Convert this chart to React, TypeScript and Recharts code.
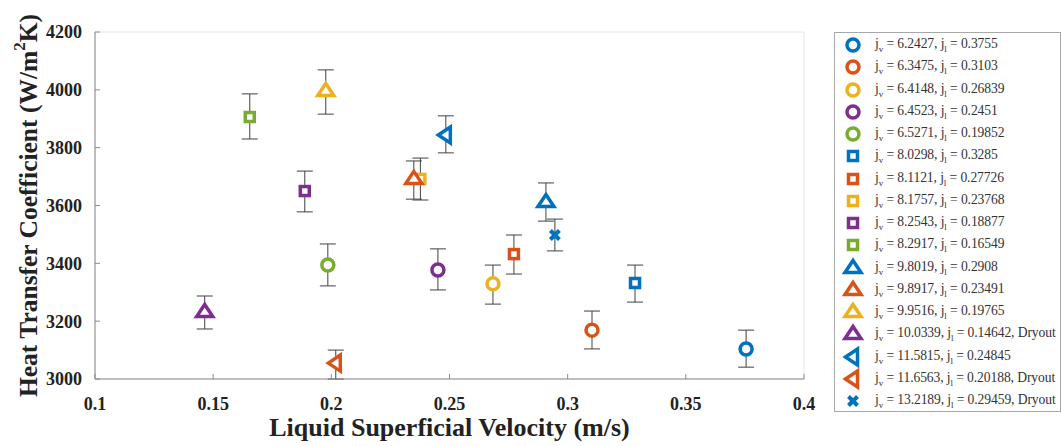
import React from "react";
import {
  ScatterChart,
  Scatter,
  XAxis,
  YAxis,
  CartesianGrid,
  ErrorBar,
} from "recharts";

const jvLabels = ["6.2427", "6.3475", "6.4148", "6.4523", "6.5271", "8.0298", "8.1121", "8.1757", "8.2543", "8.2917", "9.8019", "9.8917", "9.9516", "10.0339", "11.5815", "11.6563", "13.2189"];
const jlLabels = ["0.3755", "0.3103", "0.26839", "0.2451", "0.19852", "0.3285", "0.27726", "0.23768", "0.18877", "0.16549", "0.2908", "0.23491", "0.19765", "0.14642", "0.24845", "0.20188", "0.29459"];
const dryout = [false, false, false, false, false, false, false, false, false, false, false, false, false, true, false, true, true];
const htc = [3104, 3169, 3329, 3377, 3394, 3332, 3432, 3692, 3650, 3906, 3612, 3692, 3996, 3232, 3844, 3055, 3498];
const errLow = [63, 65, 70, 69, 72, 66, 69, 73, 72, 76, 66, 70, 80, 59, 62, 55, 55];
const errHigh = [65, 66, 65, 73, 73, 62, 66, 72, 69, 80, 66, 62, 73, 55, 66, 45, 55];
const seriesColors = ["#0072BD", "#D95319", "#EDB120", "#7E2F8E", "#77AC30", "#0072BD", "#D95319", "#EDB120", "#7E2F8E", "#77AC30", "#0072BD", "#D95319", "#EDB120", "#7E2F8E", "#0072BD", "#D95319", "#0072BD"];
const markers = ["circle", "circle", "circle", "circle", "circle", "square", "square", "square", "square", "square", "triangle", "triangle", "triangle", "triangle", "left", "left", "cross"];

const xTickLabels = ["0.1", "0.15", "0.2", "0.25", "0.3", "0.35", "0.4"];
const yTickLabels = ["3000", "3200", "3400", "3600", "3800", "4000", "4200"];
const xTicks = xTickLabels.map(Number);
const yTicks = yTickLabels.map(Number);

const FONT = '"Liberation Serif", "Times New Roman", serif';

const series = jvLabels.map((jv, i) => ({
  jv,
  jl: jlLabels[i],
  color: seriesColors[i],
  marker: markers[i],
  dryout: dryout[i],
  data: [{ x: Number(jlLabels[i]), y: htc[i], err: [errLow[i], errHigh[i]] }],
}));

function Marker({ kind, color, cx, cy }: { kind: string; color: string; cx: number; cy: number }) {
  const sw = 3.5;
  if (kind === "circle") {
    return <circle cx={cx} cy={cy} r={6} fill="#fff" stroke={color} strokeWidth={sw} />;
  }
  if (kind === "square") {
    return <rect x={cx - 4.5} y={cy - 4.5} width={9} height={9} fill="#fff" stroke={color} strokeWidth={sw} />;
  }
  if (kind === "triangle") {
    const h = 7.5;
    const w = 8;
    return (
      <polygon
        points={`${cx},${cy - h} ${cx + w},${cy + h * 0.6} ${cx - w},${cy + h * 0.6}`}
        fill="#fff"
        stroke={color}
        strokeWidth={sw}
        strokeLinejoin="miter"
      />
    );
  }
  if (kind === "left") {
    const h = 8;
    const w = 7.5;
    return (
      <polygon
        points={`${cx - w},${cy} ${cx + w * 0.6},${cy - h} ${cx + w * 0.6},${cy + h}`}
        fill="#fff"
        stroke={color}
        strokeWidth={sw}
        strokeLinejoin="miter"
      />
    );
  }
  const s = 4.5;
  return (
    <g stroke={color} strokeWidth={4}>
      <line x1={cx - s} y1={cy - s} x2={cx + s} y2={cy + s} />
      <line x1={cx - s} y1={cy + s} x2={cx + s} y2={cy - s} />
    </g>
  );
}

const axisColor = "#8a8a8a";
const tickStyle = { fontFamily: FONT, fontSize: 18, fontWeight: "bold", fill: "#222" };

export default function App() {
  return (
    <div style={{ position: "absolute", left: 0, top: 0, width: 1062, height: 446, background: "#fff", fontFamily: FONT }}>
      <ScatterChart width={1062} height={446} margin={{ top: 32, right: 258, bottom: 0, left: 0 }}>
        <CartesianGrid stroke="#e6e6e6" strokeWidth={1} />
        <XAxis
          xAxisId="b"
          type="number"
          dataKey="x"
          domain={[0.1, 0.4]}
          ticks={xTicks}
          tickFormatter={(v: number) => xTickLabels[xTicks.indexOf(v)] ?? String(v)}
          height={67}
          tickSize={-5}
          tickMargin={23}
          stroke={axisColor}
          tick={tickStyle}
          allowDataOverflow
          label={{ value: "Liquid Superficial Velocity (m/s)", position: "insideBottom", offset: 10, style: { fontFamily: FONT, fontSize: 26, fontWeight: "bold", fill: "#222", textAnchor: "middle" } }}
        />
        <XAxis
          xAxisId="t"
          orientation="top"
          type="number"
          dataKey="x"
          domain={[0.1, 0.4]}
          ticks={xTicks}
          height={0}
          tickSize={-5}
          tick={false}
          stroke={axisColor}
          allowDataOverflow
        />
        <YAxis
          yAxisId="l"
          type="number"
          dataKey="y"
          domain={[3000, 4200]}
          ticks={yTicks}
          width={95}
          tickSize={-5}
          tickMargin={18}
          stroke={axisColor}
          tick={tickStyle}
          allowDataOverflow
          label={(props: any) => {
            const vb = props.viewBox || {};
            const cy = (vb.y ?? 32) + (vb.height ?? 347) / 2;
            return (
              <text
                x={28}
                y={cy}
                transform={`rotate(-90, 28, ${cy})`}
                textAnchor="middle"
                dominantBaseline="central"
                style={{ fontFamily: FONT, fontSize: 25.5, fontWeight: "bold", fill: "#222" }}
              >
                Heat Transfer Coefficient (W/m
                <tspan dy={-9} fontSize={17}>2</tspan>
                <tspan dy={9}>K)</tspan>
              </text>
            );
          }}
        />
        <YAxis
          yAxisId="r"
          orientation="right"
          type="number"
          dataKey="y"
          domain={[3000, 4200]}
          ticks={yTicks}
          width={0}
          tickSize={-5}
          tick={false}
          stroke={axisColor}
          allowDataOverflow
        />
        {series.map((s, i) => (
          <Scatter
            key={i}
            xAxisId="b"
            yAxisId="l"
            data={s.data}
            isAnimationActive={false}
            shape={(p: any) => <Marker kind={s.marker} color={s.color} cx={p.cx} cy={p.cy} />}
          >
            <ErrorBar dataKey="err" direction="y" width={8} stroke="#404040" strokeWidth={1} />
          </Scatter>
        ))}
      </ScatterChart>
      <div
        style={{
          position: "absolute",
          left: 834,
          top: 32,
          width: 227,
          height: 380,
          border: "1px solid #a8a8a8",
          boxSizing: "border-box",
          background: "#fff",
        }}
      >
        {series.map((s, i) => (
          <div
            key={i}
            style={{
              position: "absolute",
              left: 0,
              top: 1 + i * 22.25,
              height: 22,
              width: 225,
              display: "flex",
              alignItems: "center",
            }}
          >
            <svg width={24} height={22} style={{ marginLeft: 6, flex: "none" }}>
              <Marker kind={s.marker} color={s.color} cx={12} cy={11} />
            </svg>
            <span style={{ marginLeft: 10, fontSize: 13.6, letterSpacing: -0.1, color: "#333", whiteSpace: "nowrap", fontFamily: FONT }}>
              j<sub style={{ fontSize: 9 }}>v</sub> = {s.jv}, j<sub style={{ fontSize: 9 }}>l</sub> = {s.jl}
              {s.dryout ? ", Dryout" : ""}
            </span>
          </div>
        ))}
      </div>
    </div>
  );
}
